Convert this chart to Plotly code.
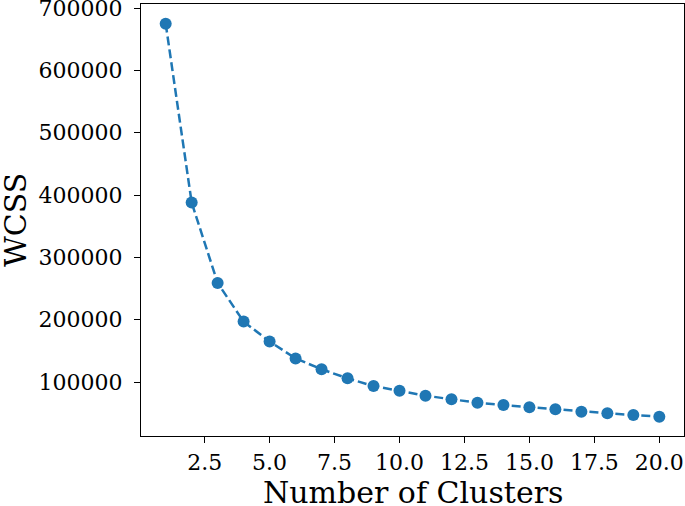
import plotly.graph_objects as go

# elbow curve values
clusters = list(range(1, 21))
wcss = [675000, 388000, 259000, 197000, 165000, 138000, 120500, 106000,
        93700, 86200, 78200, 72400, 67000, 63200, 59600, 56400, 52500,
        50000, 47200, 44500]

fig = go.Figure()
fig.add_trace(go.Scatter(
    x=clusters, y=wcss,
    mode='lines+markers',
    line=dict(color='#1f77b4', width=2.5, dash='9px,4px'),
    marker=dict(color='#1f77b4', size=12),
    showlegend=False
))

axis_common = dict(
    showline=True, linecolor='black', linewidth=1, mirror=True,
    ticks='outside', ticklen=6, tickwidth=1, tickcolor='black',
    showgrid=False, zeroline=False, ticklabeloverflow='allow',
    automargin=False,
    tickfont=dict(family='DejaVu Serif', size=22, color='black'),
)

fig.update_xaxes(
    range=[0.05, 20.95], tick0=2.5, dtick=2.5, tickformat='.1f',
    ticklabelstandoff=1,
    **axis_common
)
fig.update_yaxes(
    range=[13500, 706500], tick0=0, dtick=100000, tickformat='d',
    ticklabelstandoff=7,
    **axis_common
)

title_font = dict(family='DejaVu Serif', size=30, color='black')
# axis titles as annotations so the plot area stays fixed
fig.add_annotation(text='Number of Clusters', xref='paper', yref='paper',
                   x=0.5, y=0, xanchor='center', yanchor='middle',
                   yshift=-56, showarrow=False, font=title_font)
fig.add_annotation(text='WCSS', xref='paper', yref='paper',
                   x=0, y=0.5, xanchor='center', yanchor='middle',
                   xshift=-126, textangle=-90, showarrow=False, font=title_font)

fig.update_layout(
    width=685, height=506,
    margin=dict(l=141, r=1, t=4, b=70),
    plot_bgcolor='white', paper_bgcolor='white',
)

fig.write_html("out.html", config={'displayModeBar': False},
               post_script="document.body.style.margin='0';")
